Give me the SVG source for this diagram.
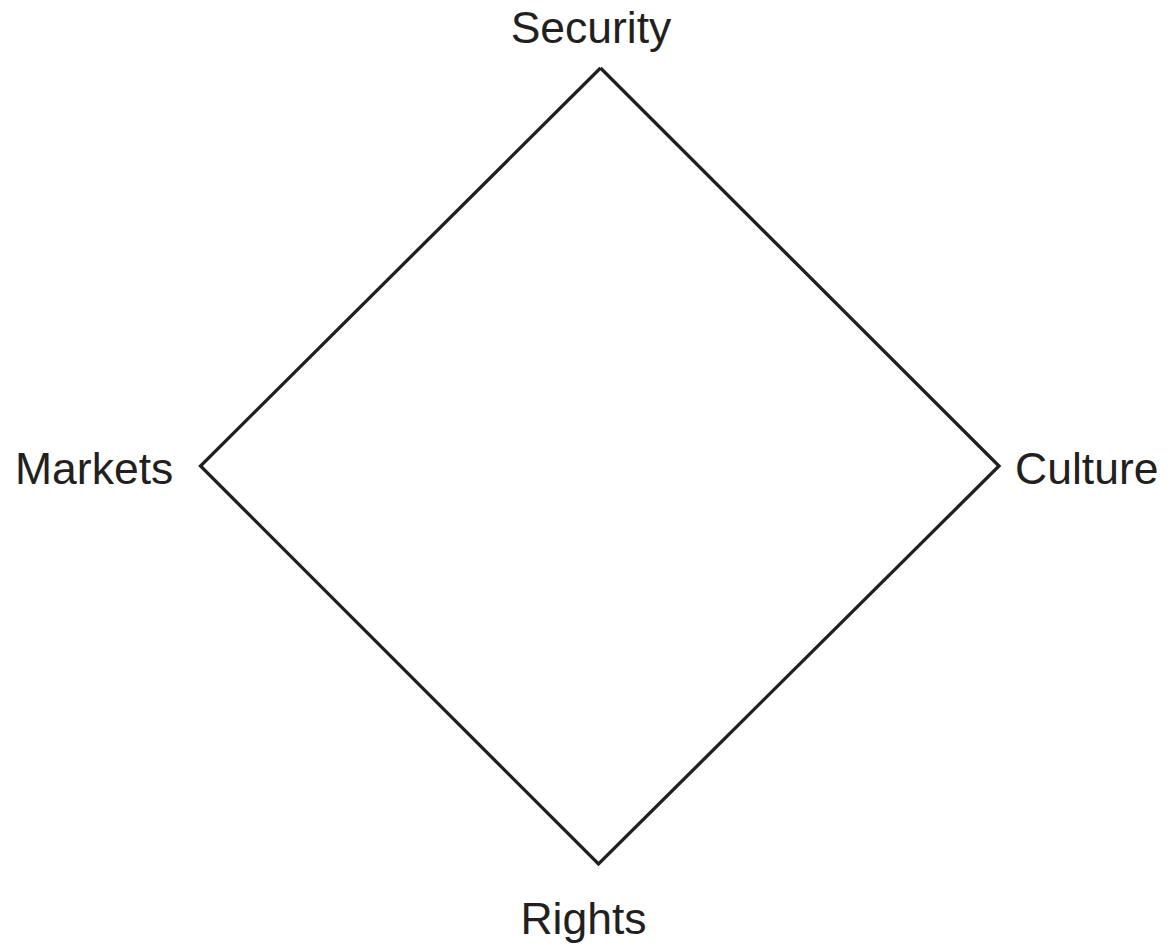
<svg xmlns="http://www.w3.org/2000/svg" width="1169" height="948" viewBox="0 0 1169 948">
<style>
text{font-family:"Liberation Sans",Arial,sans-serif;font-size:44.5px;fill:#231f20}
.edge{fill:none;stroke:#231f20;stroke-width:3.3;stroke-linejoin:miter}
</style>
<rect width="1169" height="948" fill="#fff"/>
<g id="connectors">
<polyline class="edge" points="600.5,68 999,466 598.5,864 200.5,466 600.5,68"/>
</g>
<g id="security"><text x="591" y="43" text-anchor="middle">Security</text></g>
<g id="markets"><text x="15" y="484">Markets</text></g>
<g id="culture"><text x="1015" y="484">Culture</text></g>
<g id="rights"><text x="583.5" y="934" text-anchor="middle">Rights</text></g>
</svg>
